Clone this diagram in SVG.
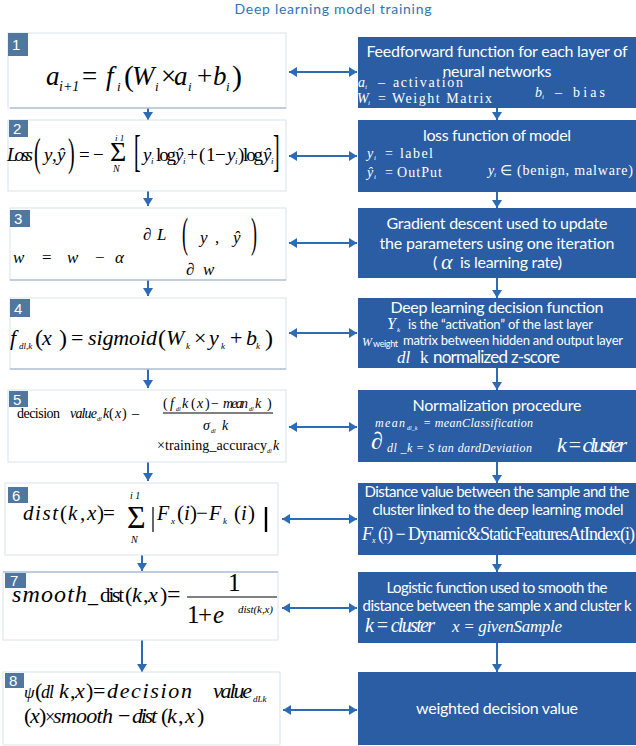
<svg xmlns="http://www.w3.org/2000/svg" width="636" height="746" viewBox="0 0 636 746">
<style>
.m{font-family:"Liberation Serif","Times New Roman",serif;font-style:italic;fill:#000}
.u{font-family:"Liberation Serif","Times New Roman",serif;fill:#000}
.s{font-family:Lato,"Open Sans",sans-serif;fill:#fff}
.wm{font-family:"Liberation Serif",serif;font-style:italic;fill:#fff}
.wu{font-family:"Liberation Serif",serif;fill:#fff}
.c{text-anchor:middle}
.panel{fill:#fff;stroke:#DAE3ED;stroke-width:1}
.pline{stroke:#93AAC6;stroke-width:1}
.box{fill:#2A5DA3}
.lab{fill:#50779F}
.num{font-family:"Liberation Sans",Arial,sans-serif;font-size:15px;fill:#fff}
.con{stroke:#2E6BB5;stroke-width:2;fill:none}
.frac{stroke:#000;stroke-width:1}
</style>
<defs>
<marker id="ah" viewBox="0 0 8 10" refX="8" refY="5" markerWidth="8" markerHeight="10" markerUnits="userSpaceOnUse" orient="auto-start-reverse">
<path d="M0,0 L8,5 L0,10 z" fill="#2E6BB5"/>
</marker>
</defs>
<text class="s c" x="333" y="14" font-size="14" style="fill:#2E75B6" textLength="197">Deep learning model training</text>

<g id="connectors">
<line class="con" x1="289" y1="72" x2="357" y2="72" marker-start="url(#ah)" marker-end="url(#ah)"/>
<line class="con" x1="289" y1="156" x2="357" y2="156" marker-start="url(#ah)" marker-end="url(#ah)"/>
<line class="con" x1="289" y1="243" x2="357" y2="243" marker-start="url(#ah)" marker-end="url(#ah)"/>
<line class="con" x1="289" y1="333" x2="357" y2="333" marker-start="url(#ah)" marker-end="url(#ah)"/>
<line class="con" x1="289" y1="427" x2="357" y2="427" marker-start="url(#ah)" marker-end="url(#ah)"/>
<line class="con" x1="282" y1="519" x2="357" y2="519" marker-start="url(#ah)" marker-end="url(#ah)"/>
<line class="con" x1="282" y1="608" x2="357" y2="608" marker-start="url(#ah)" marker-end="url(#ah)"/>
<line class="con" x1="283" y1="710" x2="357" y2="710" marker-start="url(#ah)" marker-end="url(#ah)"/>
<line class="con" x1="148" y1="108" x2="148" y2="120" marker-end="url(#ah)"/>
<line class="con" x1="148" y1="191" x2="148" y2="206" marker-end="url(#ah)"/>
<line class="con" x1="148" y1="280" x2="148" y2="296" marker-end="url(#ah)"/>
<line class="con" x1="148" y1="369" x2="148" y2="388" marker-end="url(#ah)"/>
<line class="con" x1="148" y1="462" x2="148" y2="481" marker-end="url(#ah)"/>
<line class="con" x1="142" y1="555" x2="142" y2="571" marker-end="url(#ah)"/>
<line class="con" x1="142" y1="640" x2="142" y2="672" marker-end="url(#ah)"/>
<line class="con" x1="497" y1="108" x2="497" y2="120" marker-end="url(#ah)"/>
<line class="con" x1="497" y1="192" x2="497" y2="208" marker-end="url(#ah)"/>
<line class="con" x1="497" y1="278" x2="497" y2="298" marker-end="url(#ah)"/>
<line class="con" x1="497" y1="368" x2="497" y2="390" marker-end="url(#ah)"/>
<line class="con" x1="497" y1="462" x2="497" y2="483" marker-end="url(#ah)"/>
<line class="con" x1="497" y1="555" x2="497" y2="572" marker-end="url(#ah)"/>
<line class="con" x1="497" y1="643" x2="497" y2="672" marker-end="url(#ah)"/>
</g>

<g id="eq1">
<rect class="panel" x="8" y="33" width="278" height="75"/>
<line class="pline" x1="10" y1="108" x2="286" y2="108"/>
<rect class="lab" x="8" y="33" width="20" height="23"/>
<text class="num" x="12" y="50">1</text>
<text class="m" x="46" y="85" font-size="27">a</text>
<text class="m" x="59" y="91" font-size="14">i+1</text>
<text class="u" x="82" y="85" font-size="27">=</text>
<text class="m" x="106" y="85" font-size="27">f</text>
<text class="m" x="117" y="91" font-size="13">i</text>
<text class="u" x="124" y="86" font-size="30">(</text>
<text class="m" x="132" y="85" font-size="27">W</text>
<text class="m" x="155" y="91" font-size="13">i</text>
<text class="u" x="161" y="85" font-size="27">×</text>
<text class="m" x="174" y="85" font-size="27">a</text>
<text class="m" x="188" y="91" font-size="13">i</text>
<text class="u" x="197" y="85" font-size="27">+</text>
<text class="m" x="213" y="85" font-size="27">b</text>
<text class="m" x="226" y="91" font-size="13">i</text>
<text class="u" x="232" y="86" font-size="30">)</text>
</g>

<g id="eq2">
<rect class="panel" x="8" y="120" width="278" height="71"/>
<rect class="lab" x="9" y="120" width="19" height="17"/>
<text class="num" x="13" y="134">2</text>
<text class="m" x="7" y="161" font-size="19" textLength="26">Loss</text>
<text class="u" font-size="20" transform="translate(34,166) scale(1,2.05)">(</text>
<text class="m" x="44" y="161" font-size="19">y</text>
<text class="u" x="52" y="161" font-size="19">,</text>
<text class="m" x="57" y="161" font-size="19">ŷ</text>
<text class="u" font-size="20" transform="translate(68,166) scale(1,2.05)">)</text>
<text class="u" x="79" y="161" font-size="19">=</text>
<text class="u" x="93" y="161" font-size="19">−</text>
<text class="u" x="110" y="161" font-size="28">Σ</text>
<text class="m" x="115" y="141" font-size="9">i   1</text>
<text class="m" x="113" y="172" font-size="10">N</text>
<text class="u" font-size="20" transform="translate(134,166) scale(1,2.25)">[</text>
<text class="m" x="143" y="161" font-size="19">y</text>
<text class="m" x="151" y="164" font-size="9">i</text>
<text class="u" x="156" y="161" font-size="19" textLength="20">log</text>
<text class="m" x="175" y="161" font-size="19">ŷ</text>
<text class="m" x="183" y="164" font-size="9">i</text>
<text class="u" x="187" y="161" font-size="19">+</text>
<text class="u" x="199" y="161" font-size="19">(</text>
<text class="u" x="206" y="161" font-size="19">1</text>
<text class="u" x="215" y="161" font-size="19">−</text>
<text class="m" x="227" y="161" font-size="19">y</text>
<text class="m" x="235" y="164" font-size="9">i</text>
<text class="u" x="238" y="161" font-size="19">)</text>
<text class="u" x="243" y="161" font-size="19" textLength="20">log</text>
<text class="m" x="263" y="161" font-size="19">ŷ</text>
<text class="m" x="271" y="164" font-size="9">i</text>
<text class="u" font-size="20" transform="translate(273,166) scale(1,2.25)">]</text>
</g>

<g id="eq3">
<rect class="panel" x="10" y="208" width="276" height="72"/>
<line class="pline" x1="10" y1="280" x2="286" y2="280"/>
<rect class="lab" x="10" y="210" width="20" height="17"/>
<text class="num" x="14" y="224">3</text>
<text class="m" x="13" y="263" font-size="17">w</text>
<text class="u" x="42" y="263" font-size="17">=</text>
<text class="m" x="67" y="263" font-size="17">w</text>
<text class="u" x="95" y="263" font-size="17">−</text>
<text class="m" x="115" y="263" font-size="17">α</text>
<text class="m" x="143" y="240" font-size="17">∂</text>
<text class="m" x="157" y="240" font-size="17">L</text>
<text class="u" font-size="18" transform="translate(182,247) scale(1,2.36)">(</text>
<text class="m" x="200" y="243" font-size="17">y</text>
<text class="u" x="215" y="243" font-size="17">,</text>
<text class="m" x="233" y="243" font-size="17">ŷ</text>
<text class="u" font-size="18" transform="translate(251,247) scale(1,2.36)">)</text>
<text class="m" x="186" y="275" font-size="17">∂</text>
<text class="m" x="203" y="275" font-size="17">w</text>
</g>

<g id="eq4">
<rect class="panel" x="10" y="298" width="276" height="71"/>
<line class="pline" x1="10" y1="369" x2="286" y2="369"/>
<rect class="lab" x="10" y="299" width="20" height="18"/>
<text class="num" x="14" y="314">4</text>
<text class="m" x="10" y="345" font-size="22">f</text>
<text class="m" x="19" y="349" font-size="9">dl,k</text>
<text class="u" x="35" y="346" font-size="24">(</text>
<text class="m" x="42" y="345" font-size="22">x</text>
<text class="u" x="59" y="346" font-size="24">)</text>
<text class="u" x="71" y="345" font-size="22">=</text>
<text class="m" x="88" y="345" font-size="22" textLength="69">sigmoid</text>
<text class="u" x="158" y="346" font-size="24">(</text>
<text class="m" x="166" y="345" font-size="22">W</text>
<text class="m" x="186" y="349" font-size="9">k</text>
<text class="u" x="194" y="345" font-size="22">×</text>
<text class="m" x="209" y="345" font-size="22">y</text>
<text class="m" x="221" y="349" font-size="9">k</text>
<text class="u" x="230" y="345" font-size="22">+</text>
<text class="m" x="246" y="345" font-size="22">b</text>
<text class="m" x="256" y="349" font-size="9">k</text>
<text class="u" x="265" y="346" font-size="24">)</text>
</g>

<g id="eq5">
<rect class="panel" x="8" y="390" width="278" height="72"/>
<rect class="lab" x="9" y="391" width="19" height="16"/>
<text class="num" x="13" y="405">5</text>
<text class="u" x="17" y="418" font-size="14" textLength="43">decision</text>
<text class="m" x="70" y="418" font-size="14" textLength="27">value</text>
<text class="m" x="97" y="421" font-size="6">dl</text>
<text class="m" x="103" y="418" font-size="14">k</text>
<text class="u" x="109" y="418" font-size="14">(</text>
<text class="m" x="115" y="418" font-size="14">x</text>
<text class="u" x="122" y="418" font-size="14">)</text>
<text class="u" x="132" y="418" font-size="14">–</text>
<text class="u" x="163" y="408" font-size="14">(</text>
<text class="m" x="170" y="408" font-size="14">f</text>
<text class="m" x="176" y="411" font-size="6">dl</text>
<text class="m" x="182" y="408" font-size="14">k</text>
<text class="u" x="191" y="408" font-size="14">(</text>
<text class="m" x="197" y="408" font-size="14">x</text>
<text class="u" x="205" y="408" font-size="14">)</text>
<text class="u" x="211" y="408" font-size="14">−</text>
<text class="m" x="223" y="408" font-size="14" textLength="25">mean</text>
<text class="m" x="249" y="411" font-size="6">dl</text>
<text class="m" x="255" y="408" font-size="14">k</text>
<text class="u" x="267" y="408" font-size="14">)</text>
<line class="frac" x1="163" y1="413" x2="273" y2="413"/>
<text class="m" x="203" y="430" font-size="14">σ</text>
<text class="m" x="211" y="433" font-size="6">dl</text>
<text class="m" x="222" y="430" font-size="14">k</text>
<text class="u" x="157" y="450" font-size="14" textLength="110">×training_accuracy</text>
<text class="m" x="267" y="453" font-size="6">dl</text>
<text class="m" x="273" y="450" font-size="14">k</text>
</g>

<g id="eq6">
<rect class="panel" x="5" y="483" width="273" height="72"/>
<rect class="lab" x="8" y="487" width="20" height="16"/>
<text class="num" x="12" y="501">6</text>
<text class="m" x="23" y="520" font-size="21" textLength="35">dist</text>
<text class="u" x="60" y="520" font-size="21">(</text>
<text class="m" x="68" y="520" font-size="21">k</text>
<text class="u" x="80" y="520" font-size="21">,</text>
<text class="m" x="87" y="520" font-size="21">x</text>
<text class="u" x="97" y="520" font-size="21">)</text>
<text class="u" x="103" y="520" font-size="21">=</text>
<text class="u" x="127" y="528" font-size="32">Σ</text>
<text class="m" x="130" y="499" font-size="10">i   1</text>
<text class="m" x="131" y="543" font-size="10">N</text>
<line x1="153" y1="507" x2="153" y2="532" stroke="#000" stroke-width="1.2"/>
<text class="m" x="157" y="520" font-size="20">F</text>
<text class="m" x="171" y="524" font-size="9">x</text>
<text class="u" x="177" y="520" font-size="21">(</text>
<text class="m" x="184" y="520" font-size="21">i</text>
<text class="u" x="190" y="520" font-size="21">)</text>
<text class="u" x="196" y="520" font-size="21">−</text>
<text class="m" x="209" y="520" font-size="20">F</text>
<text class="m" x="223" y="524" font-size="9">k</text>
<text class="u" x="234" y="520" font-size="21">(</text>
<text class="m" x="241" y="520" font-size="21">i</text>
<text class="u" x="248" y="520" font-size="21">)</text>
<line x1="266" y1="507" x2="266" y2="532" stroke="#000" stroke-width="2.4"/>
</g>

<g id="eq7">
<rect class="panel" x="3" y="572" width="275" height="68"/>
<line class="pline" x1="3" y1="572" x2="278" y2="572"/>
<rect class="lab" x="5" y="573" width="21" height="15"/>
<text class="num" x="10" y="586">7</text>
<text class="m" x="12" y="602" font-size="24" textLength="75">smooth</text>
<text class="u" x="88" y="602" font-size="20">_</text>
<text class="u" x="100" y="602" font-size="21" textLength="24">dist</text>
<text class="u" x="125" y="602" font-size="22">(</text>
<text class="m" x="132" y="602" font-size="22">k</text>
<text class="u" x="143" y="602" font-size="22">,</text>
<text class="m" x="148" y="602" font-size="22">x</text>
<text class="u" x="160" y="602" font-size="22">)</text>
<text class="u" x="167" y="602" font-size="24">=</text>
<text class="u" x="228" y="591" font-size="25">1</text>
<line class="frac" x1="187" y1="597" x2="277" y2="597"/>
<text class="u" x="187" y="623" font-size="25">1</text>
<text class="u" x="198" y="623" font-size="25">+</text>
<text class="m" x="213" y="623" font-size="25">e</text>
<text class="m" x="238" y="613" font-size="11" textLength="35">dist(k,x)</text>
</g>

<g id="eq8">
<rect class="panel" x="3" y="672" width="277" height="73"/>
<rect class="lab" x="5" y="673" width="19" height="15"/>
<text class="num" x="9" y="686">8</text>
<text class="m" x="24" y="698" font-size="17">ψ</text>
<text class="u" x="35" y="698" font-size="22">(</text>
<text class="m" x="41" y="698" font-size="18" textLength="13">dl</text>
<text class="m" x="59" y="698" font-size="22">k</text>
<text class="u" x="70" y="698" font-size="22">,</text>
<text class="m" x="75" y="698" font-size="22">x</text>
<text class="u" x="86" y="698" font-size="22">)</text>
<text class="u" x="93" y="698" font-size="22">=</text>
<text class="m" x="107" y="698" font-size="22" textLength="85">decision</text>
<text class="m" x="213" y="698" font-size="22" textLength="39">value</text>
<text class="m" x="253" y="702" font-size="9">dLk</text>
<text class="u" x="24" y="723" font-size="22">(</text>
<text class="m" x="30" y="723" font-size="22">x</text>
<text class="u" x="39" y="723" font-size="22">)</text>
<text class="u" x="45" y="723" font-size="18">×</text>
<text class="m" x="53" y="723" font-size="22" textLength="60">smooth</text>
<text class="u" x="118" y="723" font-size="22">−</text>
<text class="m" x="132" y="723" font-size="22" textLength="25">dist</text>
<text class="u" x="161" y="723" font-size="22">(</text>
<text class="m" x="167" y="723" font-size="22">k</text>
<text class="u" x="178" y="723" font-size="22">,</text>
<text class="m" x="185" y="723" font-size="22">x</text>
<text class="u" x="197" y="723" font-size="22">)</text>
</g>

<g id="box1">
<rect class="box" x="358" y="37" width="278" height="71"/>
<text class="s c" x="497" y="57" font-size="16" textLength="261">Feedforward function for each layer of</text>
<text class="s c" x="497" y="77" font-size="16" textLength="109">neural networks</text>
<text class="wm" x="358" y="87" font-size="14">a</text>
<text class="wm" x="365" y="89" font-size="7">i</text>
<text class="wu" x="378" y="87" font-size="14">–</text>
<text class="wu" x="393" y="87" font-size="14" textLength="70">activation</text>
<text class="wm" x="357" y="103" font-size="14">W</text>
<text class="wm" x="368" y="105" font-size="7">i</text>
<text class="wu" x="378" y="103" font-size="14">=</text>
<text class="wu" x="392" y="103" font-size="14" textLength="100">Weight Matrix</text>
<text class="wm" x="535" y="97" font-size="14">b</text>
<text class="wm" x="542" y="99" font-size="7">i</text>
<text class="wu" x="555" y="97" font-size="14">–</text>
<text class="wu" x="573" y="97" font-size="14" textLength="32">bias</text>
</g>

<g id="box2">
<rect class="box" x="358" y="120" width="278" height="72"/>
<text class="s c" x="497" y="141" font-size="16" textLength="148">loss function of model</text>
<text class="wm" x="367" y="158" font-size="14">y</text>
<text class="wm" x="374" y="160" font-size="7">i</text>
<text class="wu" x="385" y="158" font-size="14">=</text>
<text class="wu" x="400" y="158" font-size="14" textLength="33">label</text>
<text class="wm" x="367" y="177" font-size="14">ŷ</text>
<text class="wm" x="374" y="179" font-size="7">i</text>
<text class="wu" x="385" y="177" font-size="14">=</text>
<text class="wu" x="397" y="177" font-size="14" textLength="45">OutPut</text>
<text class="wm" x="488" y="175" font-size="14">y</text>
<text class="wm" x="494" y="177" font-size="7">i</text>
<text class="wu" x="500" y="175" font-size="14">∈</text>
<text class="wu" x="517" y="175" font-size="14" textLength="116">(benign, malware)</text>
</g>

<g id="box3">
<rect class="box" x="358" y="208" width="278" height="70"/>
<text class="s c" x="497" y="229" font-size="16" textLength="221">Gradient descent used to update</text>
<text class="s c" x="497" y="249" font-size="16" textLength="235">the parameters using one iteration</text>
<text class="s" x="433" y="268" font-size="16">(</text>
<text class="wm" x="441" y="269" font-size="22">α</text>
<text class="s" x="460" y="268" font-size="16" textLength="102">is learning rate)</text>
</g>

<g id="box4">
<rect class="box" x="358" y="298" width="278" height="70"/>
<text class="s c" x="497" y="313" font-size="16" textLength="213">Deep learning decision function</text>
<text class="wm" x="387" y="329" font-size="16">Y</text>
<text class="wm" x="397" y="332" font-size="7">k</text>
<text class="s" x="408" y="329" font-size="13" textLength="185">is the “activation” of the last layer</text>
<text class="wm" x="362" y="346" font-size="12">W</text>
<text class="s" x="373" y="347" font-size="9" textLength="25">weight</text>
<text class="s" x="403" y="345" font-size="13" textLength="220">matrix between hidden and output layer</text>
<text class="wm" x="397" y="363" font-size="17">dl</text>
<text class="wu" x="420" y="363" font-size="17">k</text>
<text class="s" x="433" y="363" font-size="17" textLength="127">normalized z-score</text>
</g>

<g id="box5">
<rect class="box" x="358" y="390" width="278" height="72"/>
<text class="s c" x="497" y="411" font-size="16" textLength="169">Normalization procedure</text>
<text class="wm" x="375" y="427" font-size="12" textLength="30">mean</text>
<text class="wm" x="407" y="430" font-size="6">dl_k</text>
<text class="wm" x="423" y="427" font-size="12" textLength="110">= meanClassification</text>
<text class="wm" x="371" y="449" font-size="24">∂</text>
<text class="wm" x="387" y="452" font-size="12" textLength="145">dl _k = S tan dardDeviation</text>
<text class="wm" x="557" y="452" font-size="22" textLength="70">k = cluster</text>
</g>

<g id="box6">
<rect class="box" x="358" y="483" width="278" height="72"/>
<text class="s c" x="497" y="497" font-size="15" textLength="265">Distance value between the sample and the</text>
<text class="s c" x="498" y="515" font-size="15" textLength="251">cluster linked to the deep learning model</text>
<text class="wm" x="362" y="540" font-size="18">F</text>
<text class="wm" x="372" y="543" font-size="8">x</text>
<text class="wu" x="378" y="540" font-size="18" textLength="257">(i) − Dynamic&amp;StaticFeaturesAtIndex(i)</text>
</g>

<g id="box7">
<rect class="box" x="358" y="572" width="278" height="71"/>
<text class="s c" x="497" y="593" font-size="15" textLength="221">Logistic function used to smooth the</text>
<text class="s c" x="497" y="611" font-size="15" textLength="269">distance between the sample x and cluster k</text>
<text class="wm" x="365" y="632" font-size="20" textLength="70">k = cluster</text>
<text class="wm" x="452" y="632" font-size="17" textLength="110">x = givenSample</text>
</g>

<g id="box8">
<rect class="box" x="358" y="672" width="278" height="73"/>
<text class="s c" x="497" y="714" font-size="16" textLength="162">weighted decision value</text>
</g>
</svg>
